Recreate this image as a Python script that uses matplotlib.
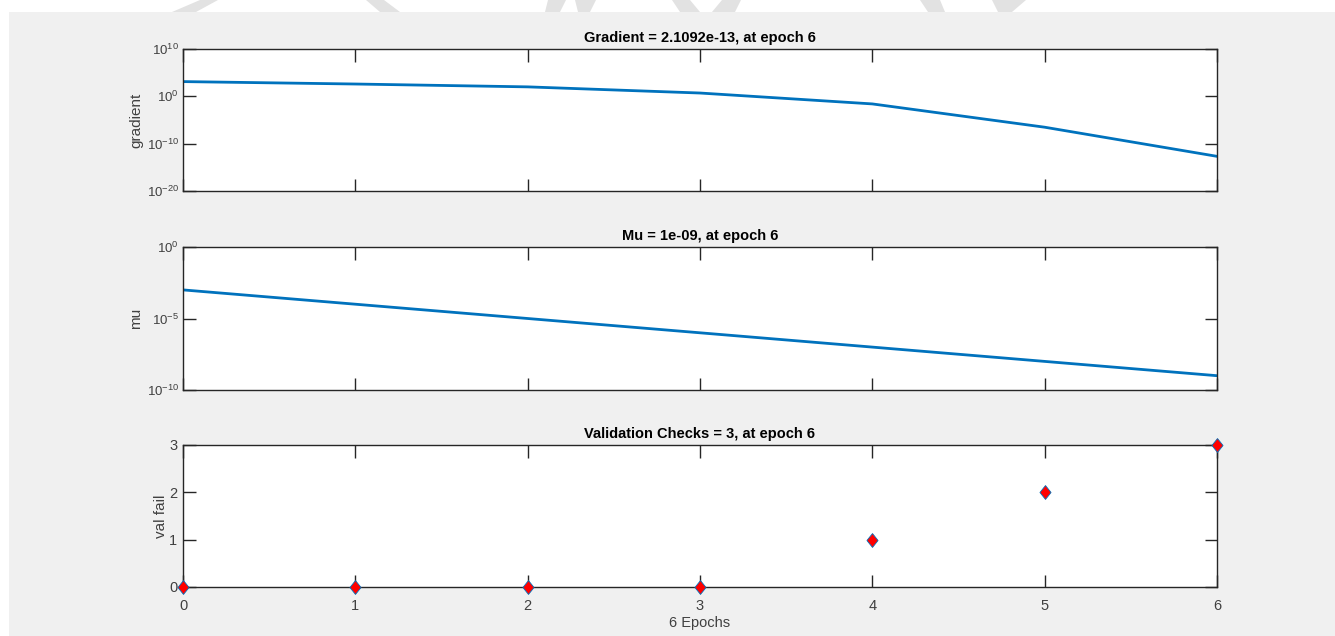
import matplotlib
matplotlib.use("Agg")
import matplotlib.pyplot as plt
from matplotlib.path import Path
from matplotlib.ticker import FixedFormatter
import numpy as np

plt.rcParams['font.family'] = ['Liberation Sans', 'DejaVu Sans']
plt.rcParams['mathtext.fontset'] = 'custom'
plt.rcParams['mathtext.rm'] = 'Liberation Sans'
plt.rcParams['mathtext.it'] = 'Liberation Sans'
plt.rcParams['axes.unicode_minus'] = False

epochs = [0, 1, 2, 3, 4, 5, 6]
gradient = [1.3e3, 4.0e2, 1.0e2, 5.0e0, 2.5e-2, 3.0e-7, 2.1092e-13]
mu = [1e-3, 1e-4, 1e-5, 1e-6, 1e-7, 1e-8, 1e-9]
val_fail = [0, 0, 0, 0, 1, 2, 3]

titles = ["Gradient = 2.1092e-13, at epoch 6",
          "Mu = 1e-09, at epoch 6",
          "Validation Checks = 3, at epoch 6"]
ylabels = ["gradient", "mu", "val fail"]
xlabel = "6 Epochs"
grad_ticks = [1e-20, 1e-10, 1e0, 1e10]
grad_labels = ["10$^{-20}$", "10$^{-10}$", "10$^{0}$", "10$^{10}$"]
mu_ticks = [1e-10, 1e-5, 1e0]
mu_labels = ["10$^{-10}$", "10$^{-5}$", "10$^{0}$"]
vf_ticks = [0, 1, 2, 3]

W, H = 1335, 636
fig = plt.figure(figsize=(W / 100, H / 100), dpi=100)
fig.patch.set_facecolor('white')
bg = plt.Rectangle((9 / W, 0), 1 - 9 / W, 1 - 12 / H, transform=fig.transFigure,
                   facecolor='#f0f0f0', edgecolor='none', zorder=-10)
fig.patches.append(bg)

# faint watermark fragments in the top white strip
wm_shapes = [
    [(200, 0), (218, 0), (196, 12), (172, 12)],
    [(366, 0), (384, 0), (400, 12), (380, 12)],
    [(548, 0), (566, 0), (560, 12), (545, 12)],
    [(575, 0), (596, 0), (590, 12), (578, 12)],
    [(672, 0), (690, 0), (700, 12), (680, 12)],
    [(722, 0), (741, 0), (735, 12), (712, 12)],
    [(920, 0), (940, 0), (945, 12), (928, 12)],
    [(992, 0), (1026, 0), (1012, 12), (998, 12)],
]
for shp in wm_shapes:
    pts = [(x / W, 1 - y / H) for x, y in shp]
    fig.patches.append(plt.Polygon(pts, closed=True, transform=fig.transFigure,
                                   facecolor='#e2e2e2', edgecolor='none', zorder=-9))

left = 183 / W
width = (1217 - 183) / W
boxes = [(49, 191), (247, 390), (445, 587)]
axes = []
for (t, b) in boxes:
    ax = fig.add_axes([left, 1 - b / H, width, (b - t) / H])
    axes.append(ax)

blue = '#0072BD'
tc = '#262626'
lc = '#404040'

def style(ax):
    ax.set_facecolor('white')
    for s in ax.spines.values():
        s.set_color(tc)
        s.set_linewidth(1.0)
    ax.tick_params(axis='both', which='major', direction='in', length=9, width=1,
                   colors=tc, labelcolor=lc, labelsize=10.5,
                   top=True, right=True)
    ax.tick_params(axis='x', pad=9)
    ax.tick_params(axis='y', pad=4)
    ax.tick_params(axis='both', which='minor', length=0)
    ax.set_xlim(0, 6)
    ax.set_xticks(epochs)

# Gradient
ax = axes[0]
ax.semilogy(epochs, gradient, color=blue, linewidth=2)
ax.set_ylim(1e-20, 1e10)
style(ax)
ax.set_yticks(grad_ticks)
ax.yaxis.set_major_formatter(FixedFormatter(grad_labels))
ax.tick_params(axis='y', labelsize=9.5, pad=3)
ax.set_xticklabels([])

# Mu
ax = axes[1]
ax.semilogy(epochs, mu, color=blue, linewidth=2)
ax.set_ylim(1e-10, 1e0)
style(ax)
ax.set_yticks(mu_ticks)
ax.yaxis.set_major_formatter(FixedFormatter(mu_labels))
ax.tick_params(axis='y', labelsize=9.5, pad=3)
ax.set_xticklabels([])

# Validation checks
diamond = Path([(0, 1), (0.8, 0), (0, -1), (-0.8, 0), (0, 1)],
               [Path.MOVETO, Path.LINETO, Path.LINETO, Path.LINETO, Path.CLOSEPOLY])
ax = axes[2]
ax.plot(epochs, val_fail, linestyle='none', marker=diamond, markersize=10,
        markerfacecolor='red', markeredgecolor=blue, markeredgewidth=0.6,
        clip_on=False, zorder=5)
ax.set_ylim(0, 3)
style(ax)
ax.set_yticks(vf_ticks)
ax.set_xlabel(xlabel, fontsize=10.5, color=lc, labelpad=2)

label_x = [-0.0385, -0.0385, -0.0141]
for ax, t, yl, lx in zip(axes, titles, ylabels, label_x):
    ax.set_title(t, fontsize=10.5, fontweight='bold', color='black', pad=5)
    ax.set_ylabel(yl, fontsize=11, color=lc)
    ax.yaxis.set_label_coords(lx, 0.5)

fig.savefig("out.png", dpi=100, facecolor=fig.get_facecolor())
